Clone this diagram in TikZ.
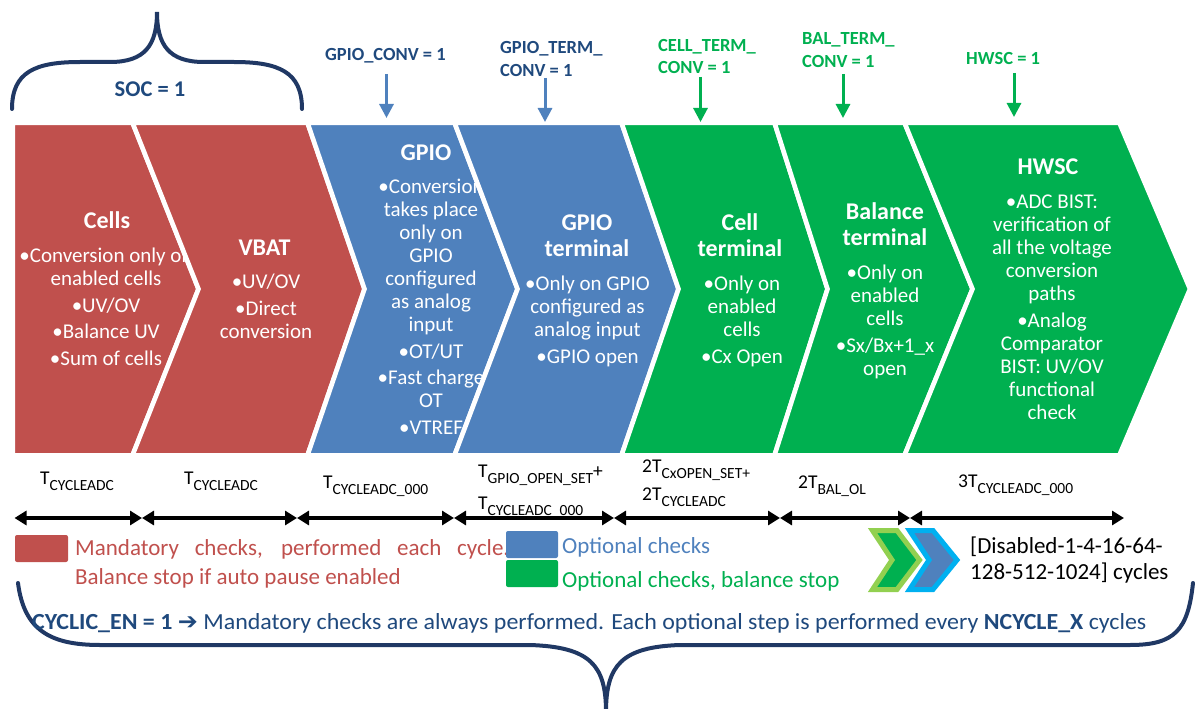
\documentclass[tikz,border=0pt]{standalone}
\usepackage{graphicx}
\usepackage{fontspec}
\setmainfont{Carlito}
\newfontfamily\dejavu{DejaVu Sans}
\usetikzlibrary{arrows.meta}
\definecolor{cred}{HTML}{C0504D}
\definecolor{cblue}{HTML}{4F81BD}
\definecolor{cgreen}{HTML}{00B050}
\definecolor{dkblue}{HTML}{1F497D}
\definecolor{brblue}{HTML}{203864}
\definecolor{lgreen}{HTML}{92D050}
\definecolor{lblue}{HTML}{00B0F0}
\newcommand\ttlf{\fontsize{24}{26}\selectfont\bfseries}
\newcommand\bdyf{\fontsize{21}{23}\selectfont}
\newcommand\fstt{\rule{0pt}{18pt}}
\newcommand\fstb{\rule{0pt}{16pt}}
\newcommand\tsb[1]{\raisebox{-6pt}{\fontsize{15.5}{15.5}\selectfont #1}}
\tikzset{
  chev/.style={line width=4.6pt, draw=white, line join=miter},
  chtitle/.style={text=white, align=center, inner sep=0pt, anchor=north, font=\ttlf},
  chbody/.style={text=white, align=center, inner sep=0pt, anchor=north, font=\bdyf},
  toplbl/.style={anchor=base west, inner sep=0pt, font=\fontsize{18.5}{23}\selectfont\bfseries},
  darr/.style={line width=3pt, -{Triangle[length=14pt,width=14pt]}},
  tarr/.style={line width=3.2pt, {Triangle[length=12pt,width=14pt]}-{Triangle[length=12pt,width=14pt]}},
  tlbl/.style={anchor=base west, inner sep=0pt, font=\fontsize{19.5}{19.5}\selectfont},
  leg/.style={anchor=base west, inner sep=0pt, font=\fontsize{23}{23}\selectfont},
  bracepath/.style={draw=brblue, line width=4pt, line cap=round},
  icon/.style={line width=5pt, line join=miter},
}
\begin{document}
\begin{tikzpicture}[x=1pt,y=-1pt]
\useasboundingbox (0,0) rectangle (1195,709);
\def\T{122.7}\def\B{455.3}\def\M{289}
% chevrons with text
\fill[cred,chev] (12.7,\T) -- (132.5,\T) -- (198.5,\M) -- (132.5,\B) -- (12.7,\B) -- cycle;
\node[chtitle] (cellsT) at (107,210) {\fstt Cells};
\node[chbody] (cellsB) at (106,246.5) {\fstb •Conversion only on\\enabled cells\\[3.5pt]•UV/OV\\[3.5pt]•Balance UV\\[3.5pt]•Sum of cells};

\fill[cred,chev] (132.5,\T) -- (307.5,\T) -- (364.5,\M) -- (307.5,\B) -- (132.5,\B) -- (198.5,\M) -- cycle;
\node[chtitle] (vbatT) at (264.5,237) {\fstt VBAT};
\node[chbody] (vbatB) at (266,272.5) {\fstb •UV/OV\\[3.5pt]•Direct\\conversion};

\fill[cblue,chev] (307.5,\T) -- (454.5,\T) -- (517.5,\M) -- (454.5,\B) -- (307.5,\B) -- (364.5,\M) -- cycle;
\node[chtitle] (gpioT) at (426,142) {\fstt GPIO};
\node[chbody] (gpioB) at (431,177.5) {\fstb •Conversion\\takes place\\only on\\GPIO\\configured\\as analog\\input\\[3.5pt]•OT/UT\\[3.5pt]•Fast charge\\OT\\[3.5pt]•VTREF};

\fill[cblue,chev] (454.5,\T) -- (621.5,\T) -- (678.5,\M) -- (621.5,\B) -- (454.5,\B) -- (517.5,\M) -- cycle;
\node[chtitle] (gtT) at (587,212) {\fstt GPIO\\terminal};
\node[chbody] (gtB) at (587.5,274.5) {\fstb •Only on GPIO\\configured as\\analog input\\[3.5pt]•GPIO open};

\fill[cgreen,chev] (621.5,\T) -- (774.5,\T) -- (827.5,\M) -- (774.5,\B) -- (621.5,\B) -- (678.5,\M) -- cycle;
\node[chtitle] (ctT) at (740,212) {\fstt Cell\\terminal};
\node[chbody] (ctB) at (742,274.5) {\fstb •Only on\\enabled\\cells\\[3.5pt]•Cx Open};

\fill[cgreen,chev] (774.5,\T) -- (904.5,\T) -- (972.5,\M) -- (904.5,\B) -- (774.5,\B) -- (827.5,\M) -- cycle;
\node[chtitle] (btT) at (885,201) {\fstt Balance\\terminal};
\node[chbody] (btB) at (885,263.5) {\fstb •Only on\\enabled\\cells\\[3.5pt]•Sx/Bx+1\_x\\open};

\fill[cgreen,chev] (904.5,\T) -- (1119.3,\T) -- (1190,\M) -- (1119.3,\B) -- (904.5,\B) -- (972.5,\M) -- cycle;
\node[chtitle] (hwT) at (1048,156) {\fstt HWSC};
\node[chbody] (hwB) at (1052,192.5) {\fstb •ADC BIST:\\verification of\\all the voltage\\conversion\\paths\\[3.5pt]•Analog\\Comparator\\BIST: UV/OV\\functional\\check};

% SOC brace
\draw[bracepath] (12,109) .. controls (12,72) and (35,62) .. (80,62) -- (110,62) .. controls (145,62) and (157,45) .. (157,12) .. controls (157,45) and (169,62) .. (204,62) -- (234,62) .. controls (279,62) and (302,72) .. (302,109);
\node[anchor=base, inner sep=0pt, font=\fontsize{22.5}{22.5}\selectfont\bfseries, text=dkblue] (soc) at (150,96) {SOC = 1};

% top labels and arrows
\node[toplbl, text=dkblue] (lg1) at (325,61) {GPIO\_CONV = 1};
\node[toplbl, text=dkblue] (lg2a) at (500,54) {GPIO\_TERM\_};
\node[toplbl, text=dkblue] (lg2b) at (500,77) {CONV = 1};
\node[toplbl, text=cgreen] (lg3a) at (658,52) {CELL\_TERM\_};
\node[toplbl, text=cgreen] (lg3b) at (658,74) {CONV = 1};
\node[toplbl, text=cgreen] (lg4a) at (802,45) {BAL\_TERM\_};
\node[toplbl, text=cgreen] (lg4b) at (802,68) {CONV = 1};
\node[toplbl, text=cgreen] (lg5) at (966,65) {HWSC = 1};
\coordinate (a1s) at (386.5,74);  \coordinate (a1e) at (386.5,118);
\coordinate (a2s) at (545,78);    \coordinate (a2e) at (545,122);
\coordinate (a3s) at (700.5,77);  \coordinate (a3e) at (700.5,122);
\coordinate (a4s) at (843,74);    \coordinate (a4e) at (843,118);
\coordinate (a5s) at (1014,73);   \coordinate (a5e) at (1014,117);
\draw[darr, cblue] (a1s) -- (a1e);
\draw[darr, cblue] (a2s) -- (a2e);
\draw[darr, cgreen] (a3s) -- (a3e);
\draw[darr, cgreen] (a4s) -- (a4e);
\draw[darr, cgreen] (a5s) -- (a5e);

% timing labels
\node[tlbl] (tl1) at (40,484) {T\tsb{CYCLEADC}};
\node[tlbl] (tl2) at (184,484) {T\tsb{CYCLEADC}};
\node[tlbl] (tl3) at (323,488) {T\tsb{CYCLEADC\_000}};
\node[tlbl] (tl4a) at (478,477) {T\tsb{GPIO\_OPEN\_SET}+};
\node[tlbl] (tl4b) at (478,509) {T\tsb{CYCLEADC\_000}};
\node[tlbl] (tl5a) at (642,472) {2T\tsb{CxOPEN\_SET+}};
\node[tlbl] (tl5b) at (642,500) {2T\tsb{CYCLEADC}};
\node[tlbl] (tl6) at (798,488) {2T\tsb{BAL\_OL}};
\node[tlbl] (tl7) at (958,487) {3T\tsb{CYCLEADC\_000}};

% timeline
\coordinate (t0) at (14.5,518); \coordinate (t1) at (142,518);
\coordinate (t2) at (297,518);  \coordinate (t3) at (454,518);
\coordinate (t4) at (614,518);  \coordinate (t5) at (780,518);
\coordinate (t6) at (910,518);  \coordinate (t7) at (1124,518);
\draw[tarr] (t0) -- (t1);
\draw[tarr] (t1) -- (t2);
\draw[tarr] (t2) -- (t3);
\draw[tarr] (t3) -- (t4);
\draw[tarr] (t4) -- (t5);
\draw[tarr] (t5) -- (t6);
\draw[tarr] (t6) -- (t7);

% legend
\fill[cred, rounded corners=2pt] (15,535) rectangle (68,562);
\node[leg, text=cred] (m1) at (75,555.5) {\makebox[434pt][s]{Mandatory checks, performed each cycle.}};
\node[leg, text=cred] (m2) at (75,584.5) {Balance stop if auto pause enabled};
\fill[cblue, rounded corners=2pt] (506,531) rectangle (558,558);
\fill[cgreen, rounded corners=2pt] (506,560) rectangle (558,587);
\node[leg, text=cblue] (o1) at (562,553.5) {Optional checks};
\node[leg, text=cgreen] (o2) at (562,587.5) {Optional checks, balance stop};
\filldraw[icon, fill=cgreen, draw=lgreen] (872.5,530.5) -- (897,530.5) -- (919.5,560) -- (897,589.5) -- (872.5,589.5) -- (892,560) -- cycle;
\filldraw[icon, fill=cblue, draw=lblue] (909.5,530.5) -- (933,530.5) -- (957,560) -- (933,589.5) -- (909.5,589.5) -- (929,560) -- cycle;
\node[leg] (d1) at (970,553.5) {[Disabled-1-4-16-64-};
\node[leg] (d2) at (970,579.5) {128-512-1024] cycles};

% bottom brace and text
\draw[bracepath] (18,583) .. controls (24,630) and (50,645) .. (100,645) -- (530,645) .. controls (590,647) and (606,665) .. (606,712) .. controls (606,665) and (622,647) .. (680,645) -- (1130,645) .. controls (1175,645) and (1188,630) .. (1193,583);
\node[anchor=west, inner sep=0pt, text=dkblue] (cyc) at (32,623) {\resizebox{1114pt}{16pt}{\fontsize{21}{21}\selectfont\textbf{CYCLIC\_EN = 1} {\dejavu\bfseries ➔} Mandatory checks are always performed. Each optional step is performed every \textbf{NCYCLE\_X} cycles}};
\end{tikzpicture}
\end{document}
